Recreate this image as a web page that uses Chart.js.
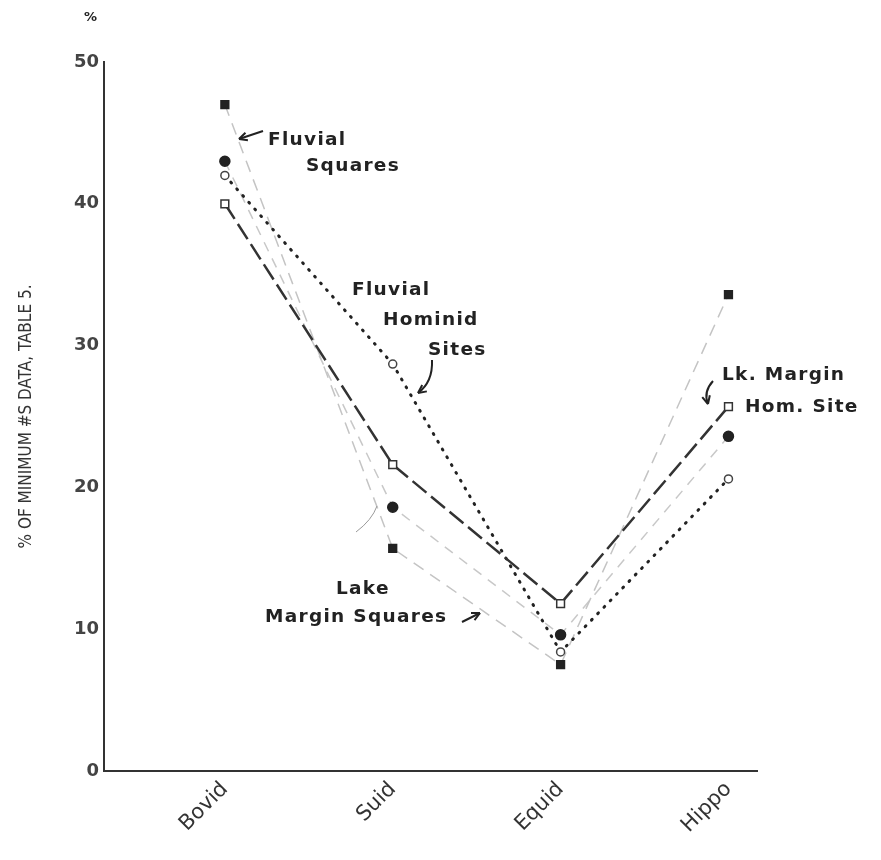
<!DOCTYPE html>
<html>
<head>
<meta charset="utf-8">
<script src="https://cdn.jsdelivr.net/npm/chart.js@4.4.1/dist/chart.umd.min.js"></script>
<style>
  html, body { margin: 0; padding: 0; background: #fff; }
  #wrap { width: 881px; height: 860px; }
</style>
</head>
<body>
<div id="wrap"><canvas id="lineChart" width="881" height="860"></canvas></div>
<script>
// taxa along the bottom
var categories = ['Bovid', 'Suid', 'Equid', 'Hippo'];

// % values
var fluvialSquares = [47, 15.7, 7.5, 33.6];
var lakeMarginSquares = [43, 18.6, 9.6, 23.6];
var fluvialHominid = [42, 28.7, 8.4, 20.6];
var lkMarginHomSite = [40, 21.6, 11.8, 25.7];

var yTicks = [0, 10, 20, 30, 40, 50];

// turn a series into x/y points (x = category position 1..4)
function toPoints(values) {
  var pts = [];
  values.forEach(function (v, i) {
    pts.push({ x: i + 1, y: v });
  });
  return pts;
}

// text labels drawn on the chart, pixel positions on the canvas
var notes = [
  { text: 'Fluvial', x: 268, y: 140 },
  { text: 'Squares', x: 306, y: 166 },
  { text: 'Fluvial', x: 352, y: 290 },
  { text: 'Hominid', x: 383, y: 320 },
  { text: 'Sites', x: 428, y: 350 },
  { text: 'Lake', x: 336, y: 589 },
  { text: 'Margin Squares', x: 265, y: 617 },
  { text: 'Lk. Margin', x: 722, y: 375 },
  { text: 'Hom. Site', x: 745, y: 407 }
];

var notesPlugin = {
  id: 'notes',
  afterDraw: function (chart) {
    var ctx = chart.ctx;
    ctx.save();
    ctx.fillStyle = '#222';
    ctx.font = 'bold 18.5px "DejaVu Sans"';
    ctx.letterSpacing = '1.3px';
    ctx.textBaseline = 'middle';
    ctx.textAlign = 'left';
    notes.forEach(function (n) {
      ctx.fillText(n.text, n.x, n.y);
    });

    // percent sign above the y axis
    ctx.font = 'bold 13px "DejaVu Sans"';
    ctx.letterSpacing = '0px';
    ctx.fillText('%', 84, 18);

    // arrows
    ctx.strokeStyle = '#222';
    ctx.lineWidth = 2;
    function head(x, y, ang) {
      ctx.beginPath();
      ctx.moveTo(x, y);
      ctx.lineTo(x - 9 * Math.cos(ang - 0.45), y - 9 * Math.sin(ang - 0.45));
      ctx.moveTo(x, y);
      ctx.lineTo(x - 9 * Math.cos(ang + 0.45), y - 9 * Math.sin(ang + 0.45));
      ctx.stroke();
    }
    // Fluvial Squares
    ctx.beginPath();
    ctx.moveTo(263, 131);
    ctx.lineTo(239, 139);
    ctx.stroke();
    head(239, 139, Math.atan2(8, -24));
    // Fluvial Hominid Sites
    ctx.beginPath();
    ctx.moveTo(432, 360);
    ctx.quadraticCurveTo(433, 382, 418, 393);
    ctx.stroke();
    head(418, 393, Math.atan2(11, -15));
    // Lake Margin Squares
    ctx.beginPath();
    ctx.moveTo(462, 622);
    ctx.lineTo(480, 613);
    ctx.stroke();
    head(480, 613, Math.atan2(-9, 18));
    ctx.lineWidth = 1;
    ctx.strokeStyle = '#999';
    ctx.beginPath();
    ctx.moveTo(356, 532);
    ctx.quadraticCurveTo(372, 520, 377, 506);
    ctx.stroke();
    // Lk Margin Hom Site
    ctx.lineWidth = 2;
    ctx.strokeStyle = '#222';
    ctx.beginPath();
    ctx.moveTo(713, 381);
    ctx.quadraticCurveTo(703, 392, 708, 404);
    ctx.stroke();
    head(708, 404, Math.atan2(12, 3));
    ctx.restore();
  }
};

var lineChart = document.getElementById('lineChart');

var showChart = new Chart(lineChart, {
  type: 'line',
  data: {
    datasets: [
      {
        label: 'Lk. Margin Hom. Site',
        data: toPoints(lkMarginHomSite),
        borderColor: '#333',
        borderWidth: 2.5,
        borderDash: [18, 6],
        pointStyle: 'rect',
        pointRadius: 5.5,
        pointBackgroundColor: '#fff',
        pointBorderColor: '#333',
        pointBorderWidth: 1.5,
        order: 1
      },
      {
        label: 'Fluvial Hominid Sites',
        data: toPoints(fluvialHominid),
        borderColor: '#222',
        borderWidth: 3,
        borderDash: [1, 8],
        borderCapStyle: 'round',
        pointStyle: 'circle',
        pointRadius: 4,
        pointBackgroundColor: '#fff',
        pointBorderColor: '#444',
        pointBorderWidth: 1.5,
        order: 2
      },
      {
        label: 'Fluvial Squares',
        data: toPoints(fluvialSquares),
        borderColor: '#c4c4c4',
        borderWidth: 1.5,
        borderDash: [12, 8],
        pointStyle: 'rect',
        pointRadius: 5.5,
        pointBackgroundColor: '#222',
        pointBorderColor: '#222',
        order: 3
      },
      {
        label: 'Lake Margin Squares',
        data: toPoints(lakeMarginSquares),
        borderColor: '#c8c8c8',
        borderWidth: 1.5,
        borderDash: [10, 8],
        pointStyle: 'circle',
        pointRadius: 5,
        pointBackgroundColor: '#222',
        pointBorderColor: '#222',
        order: 4
      }
    ]
  },
  options: {
    responsive: false,
    animation: false,
    layout: { padding: { top: 62, right: 124, left: 0, bottom: 0 } },
    plugins: {
      legend: { display: false },
      tooltip: { enabled: false }
    },
    scales: {
      x: {
        type: 'linear',
        min: 0.28,
        max: 4.17,
        afterBuildTicks: function (axis) {
          axis.ticks = categories.map(function (c, i) { return { value: i + 1 }; });
        },
        afterFit: function (axis) { axis.height = 89; },
        grid: { display: false, drawTicks: false },
        border: { display: true, color: '#333', width: 2 },
        ticks: {
          minRotation: 45,
          maxRotation: 45,
          padding: 6,
          color: '#333',
          font: { family: 'DejaVu Sans', size: 21 },
          callback: function (v) { return categories[v - 1]; }
        }
      },
      y: {
        min: 0,
        max: 50,
        afterBuildTicks: function (axis) {
          axis.ticks = yTicks.map(function (t) { return { value: t }; });
        },
        afterFit: function (axis) { axis.width = 104; },
        grid: { display: false, drawTicks: false },
        border: { display: true, color: '#333', width: 2 },
        title: {
          display: true,
          text: '% OF MINIMUM #S DATA, TABLE 5.',
          color: '#333',
          font: { family: 'DejaVu Sans Condensed', size: 17 },
          padding: { top: 16, bottom: 0 }
        },
        ticks: {
          padding: 5,
          color: '#444',
          font: { family: 'DejaVu Sans', size: 18, weight: 'bold' }
        }
      }
    }
  },
  plugins: [notesPlugin]
});
</script>
</body>
</html>
